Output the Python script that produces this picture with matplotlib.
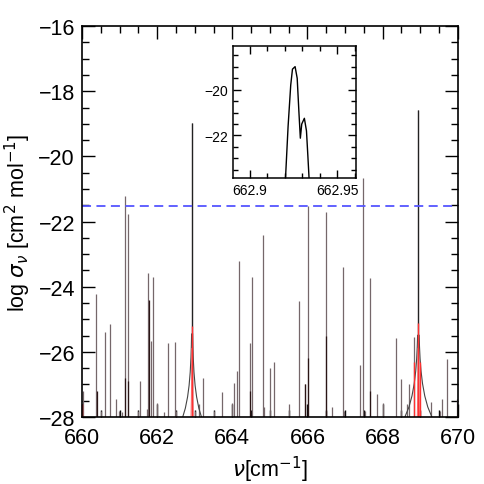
import numpy as np
import matplotlib
matplotlib.use("Agg")
import matplotlib.pyplot as plt
from matplotlib.ticker import MultipleLocator

plt.rcParams['font.family'] = ['Liberation Sans', 'DejaVu Sans']
plt.rcParams['mathtext.fontset'] = 'dejavusans'

# spectral lines: wavenumber [cm-1], log cross section
line_nu = [660.02, 660.38, 660.50, 660.62, 660.74, 660.90, 660.99, 661.06,
           661.14, 661.22, 661.50, 661.54, 661.73, 661.76, 661.83, 661.90,
           662.00, 662.06, 662.18, 662.29, 662.48, 662.50, 662.93, 663.02,
           663.11, 663.22, 663.50, 663.72, 664.00, 664.05, 664.12, 664.19,
           664.46, 664.52, 664.81, 664.83, 665.01, 665.10, 665.50, 665.77,
           665.94, 666.01, 666.48, 666.50, 666.64, 666.94, 666.97, 667.39,
           667.47, 667.54, 667.66, 667.84, 668.02, 668.36, 668.48, 668.50,
           668.65, 668.70, 668.83, 668.95, 669.00, 669.28, 669.52, 669.57,
           669.71, 669.98]
line_logs = [-27.2, -24.22, -27.8, -25.4, -25.15, -27.43, -27.8, -27.85,
             -21.21, -21.77, -27.8, -26.9, -27.75, -23.58, -25.68, -23.71,
             -27.57, -27.96, -27.84, -25.74, -25.71, -27.8, -18.98, -27.8,
             -27.6, -26.81, -27.8, -27.24, -27.58, -26.96, -26.6, -23.22,
             -25.73, -23.71, -22.4, -27.7, -26.5, -26.3, -27.6, -24.43,
             -26.99, -21.52, -21.7, -27.8, -27.7, -23.39, -27.8, -26.4,
             -20.67, -27.8, -23.74, -27.3, -27.58, -25.58, -26.83, -27.8,
             -27.6, -27.0, -25.53, -18.57, -27.8, -27.55, -27.8, -27.45,
             -26.22, -27.45]

# darker short components under some lines
dark_nu = [660.41, 661.15, 661.23, 661.78, 664.48, 665.94, 666.02, 666.48, 667.67]
dark_logs = [-27.2, -26.8, -26.9, -24.4, -27.2, -27.0, -26.2, -25.5, -27.2]

# red spectrum (second calculation)
red_nu = [660.01, 662.93, 668.84, 668.95, 668.99]
red_logs = [-27.6, -25.2, -26.3, -25.1, -26.3]

# Lorentz wings of the two strongest lines (offset from centre, log sigma)
wing_a_center = 662.93
wing_a_off = [0.25, 0.18, 0.12, 0.08, 0.05, 0.03, 0.02, 0.013]
wing_a_logs = [-28.0, -27.73, -27.38, -27.03, -26.62, -26.17, -25.82, -25.45]
wing_b_center = 668.95
wing_b_off = [0.36, 0.25, 0.17, 0.11, 0.07, 0.045, 0.03, 0.02]
wing_b_logs = [-28.0, -27.69, -27.35, -26.97, -26.58, -26.2, -25.84, -25.49]
red_wing_off = [0.03, 0.02, 0.012, 0.006]
red_wing_logs = [-28.0, -27.5, -26.8, -25.9]

threshold = -21.52

# zoom of the strong line at 662.93
inset_nu = [662.9205, 662.922, 662.9235, 662.9245, 662.926, 662.9272, 662.9282,
            662.929, 662.9298, 662.9313, 662.9325, 662.9333, 662.934]
inset_logs = [-23.9, -21.6, -19.8, -19.1, -18.99, -19.5, -21.0,
              -22.12, -21.5, -21.25, -21.8, -22.9, -23.9]

fig = plt.figure(figsize=(4.85, 4.85), dpi=100)
ax = fig.add_axes([0.169, 0.138, 0.775, 0.806])

ymin = -28
ax.vlines(line_nu, ymin, line_logs, color='#75676a', lw=0.9)
ax.vlines(dark_nu, ymin, dark_logs, color='#2a1515', lw=0.9)
ax.vlines([662.93, 668.95], ymin, [-18.98, -18.57], color='#222222', lw=0.9)

for c, off, vals in [(wing_a_center, wing_a_off, wing_a_logs),
                     (wing_b_center, wing_b_off, wing_b_logs)]:
    off = np.array(off)
    ax.plot(c - off, vals, color='#444444', lw=0.8)
    ax.plot(c + off, vals, color='#444444', lw=0.8)

# red spectrum on top
for c in [662.93, 668.95]:
    off = np.array(red_wing_off)
    ax.plot(c - off, red_wing_logs, color='#ff7070', lw=0.7)
    ax.plot(c + off, red_wing_logs, color='#ff7070', lw=0.7)
ax.vlines(red_nu, ymin, red_logs, color='#ff3030', lw=1.0)

ax.axhline(threshold, color='#5555ff', lw=1.3, ls=(0, (5, 3)))

ax.set_xlim(660, 670)
ax.set_ylim(-28, -16)
ax.xaxis.set_major_locator(MultipleLocator(2))
ax.xaxis.set_minor_locator(MultipleLocator(0.5))
ax.yaxis.set_major_locator(MultipleLocator(2))
ax.yaxis.set_minor_locator(MultipleLocator(0.5))
ax.tick_params(which='both', direction='in', top=True, right=True, labelsize=15.5)
ax.tick_params(which='major', length=9.5, width=1.0)
ax.tick_params(which='minor', length=4.7, width=1.0)
ax.tick_params(axis='x', pad=7)
ax.tick_params(axis='y', pad=5)
for s in ax.spines.values():
    s.set_linewidth(1.2)
ax.set_xlabel(r'$\nu$[cm$^{-1}$]', fontsize=15.5)
ax.set_ylabel(r'log $\sigma_\nu$ [cm$^2$ mol$^{-1}$]', fontsize=15.5)

ins = fig.add_axes([0.480, 0.631, 0.254, 0.272])
ins.plot(inset_nu, inset_logs, color='black', lw=1.0)
ins.set_xlim(662.8904, 662.9608)
ins.set_ylim(-23.86, -18.09)
ins.set_xticks([662.9, 662.95])
ins.set_xticklabels(['662.9', '662.95'])
ins.xaxis.set_minor_locator(MultipleLocator(0.01))
ins.yaxis.set_major_locator(MultipleLocator(2))
ins.yaxis.set_minor_locator(MultipleLocator(0.5))
ins.tick_params(which='both', direction='in', top=True, right=True, labelsize=10)
ins.tick_params(which='major', length=6, width=1.0)
ins.tick_params(which='minor', length=3.5, width=1.0)
for s in ins.spines.values():
    s.set_linewidth(1.1)

fig.savefig('out.png', dpi=100)
